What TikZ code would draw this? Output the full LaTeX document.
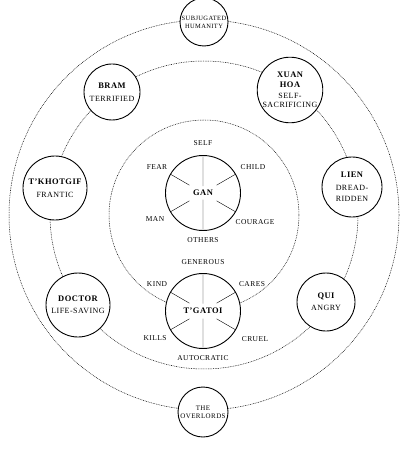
\documentclass[tikz,border=0pt]{standalone}
\usepackage{fontspec}
\setmainfont{Liberation Serif}[LetterSpace=6]
\usepackage{tikz}
\usetikzlibrary{calc}

\newcommand{\who}[1]{{\fontsize{8.5}{10}\selectfont\bfseries #1}}

\tikzset{
  ring/.style={line width=0.5pt, dash pattern=on 0.8pt off 0.9pt},
  person/.style={draw, circle, fill=white, line width=0.9pt, inner sep=0pt, outer sep=0pt, align=center, font=\fontsize{8}{9.5}\selectfont},
  trait/.style={font=\fontsize{7.5}{9}\selectfont, inner sep=0pt}
}

\begin{document}
\begin{tikzpicture}[x=1bp, y=-1bp]
    \useasboundingbox (0,0) rectangle (405,453);

    % Rings
    \coordinate (hub) at (204,215);
    \draw [ring] (hub) circle (195);
    \draw [ring] (hub) circle (154);
    \draw [ring] (hub) circle (95);

    % Outer ring
    \node (humanity) at (204,22) [person, minimum size=48bp, font=\fontsize{6.5}{8}\selectfont] {SUBJUGATED\\HUMANITY};
    \node (overlords) at (203,412) [person, minimum size=50bp, font=\fontsize{7}{8.5}\selectfont] {THE\\OVERLORDS};

    % Middle ring
    \node (bram) at (112,92) [person, minimum size=56bp] {\who{BRAM}\\[3pt]TERRIFIED};
    \node (xuanhoa) at (290,90) [person, minimum size=55bp] {\who{XUAN}\\\who{HOA}\\[2pt]SELF-\\SACRIFICING};
    \node (tkhotgif) at (55,188) [person, minimum size=64bp] {\who{T'KHOTGIF}\\[3pt]FRANTIC};
    \node (lien) at (352,187) [person, minimum size=60bp] {\who{LIEN}\\[3pt]DREAD-\\[2pt]RIDDEN};
    \node (doctor) at (78,305) [person, minimum size=64bp] {\who{DOCTOR}\\[3pt]LIFE-SAVING};
    \node (qui) at (326,302) [person, minimum size=58bp] {\who{QUI}\\[3pt]ANGRY};

    % Gan
    \node (gan) at (203,193) [person, minimum size=75bp] {\who{GAN}};
    \draw (gan.north) -- ($(gan.center)!0.18!(gan.north)$); \draw (gan.south) -- ($(gan.center)!0.18!(gan.south)$);
    \draw (gan.150) -- ($(gan.center)!0.42!(gan.150)$); \draw (gan.30) -- ($(gan.center)!0.42!(gan.30)$);
    \draw (gan.210) -- ($(gan.center)!0.42!(gan.210)$); \draw (gan.330) -- ($(gan.center)!0.42!(gan.330)$);
    \node (self) at (203,143) [trait] {SELF};
    \node (child) at (253,167) [trait] {CHILD};
    \node (courage) at (255,222) [trait] {COURAGE};
    \node (others) at (203,240) [trait] {OTHERS};
    \node (man) at (155,219) [trait] {MAN};
    \node (fear) at (157,167) [trait] {FEAR};

    % T'Gatoi
    \node (tgatoi) at (203,311) [person, minimum size=75bp] {\who{T'GATOI}};
    \draw (tgatoi.north) -- ($(tgatoi.center)!0.2!(tgatoi.north)$); \draw (tgatoi.south) -- ($(tgatoi.center)!0.2!(tgatoi.south)$);
    \draw (tgatoi.150) -- ($(tgatoi.center)!0.42!(tgatoi.150)$); \draw (tgatoi.30) -- ($(tgatoi.center)!0.42!(tgatoi.30)$);
    \draw (tgatoi.210) -- ($(tgatoi.center)!0.42!(tgatoi.210)$); \draw (tgatoi.330) -- ($(tgatoi.center)!0.42!(tgatoi.330)$);
    \node (generous) at (203,262) [trait] {GENEROUS};
    \node (cares) at (252,284) [trait] {CARES};
    \node (cruel) at (255,339) [trait] {CRUEL};
    \node (autocratic) at (203,358) [trait] {AUTOCRATIC};
    \node (kills) at (155,338) [trait] {KILLS};
    \node (kind) at (157,284) [trait] {KIND};
\end{tikzpicture}
\end{document}
